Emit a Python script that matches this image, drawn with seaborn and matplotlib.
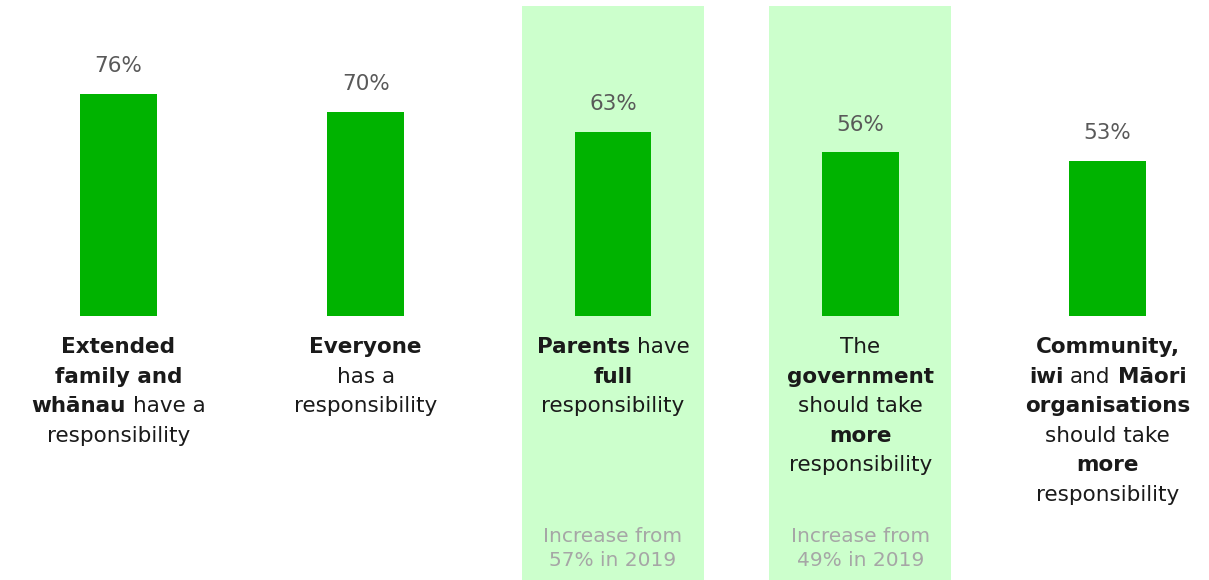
import matplotlib
matplotlib.use("Agg")
import matplotlib.pyplot as plt
import matplotlib.transforms as mtransforms
import pandas as pd
import seaborn as sns

# --- data -------------------------------------------------------------
categories = [
    "Extended family and whānau",
    "Everyone",
    "Parents",
    "The government",
    "Community, iwi and Māori organisations",
]
values = [76, 70, 63, 56, 53]
highlighted = [False, False, True, True, False]

# each label line is a list of (text, bold) segments
label_lines = [
    [[("Extended", True)], [("family and", True)],
     [("whānau", True), ("have a", False)], [("responsibility", False)]],
    [[("Everyone", True)], [("has a", False)], [("responsibility", False)]],
    [[("Parents", True), ("have", False)], [("full", True)],
     [("responsibility", False)]],
    [[("The", False)], [("government", True)], [("should take", False)],
     [("more", True)], [("responsibility", False)]],
    [[("Community,", True)], [("iwi", True), ("and", False), ("Māori", True)],
     [("organisations", True)], [("should take", False)], [("more", True)],
     [("responsibility", False)]],
]
footnotes = [None, None,
             ["Increase from", "57% in 2019"],
             ["Increase from", "49% in 2019"],
             None]

# --- style ------------------------------------------------------------
sns.set_theme(style="white")
plt.rcParams["font.family"] = ["DejaVu Sans"]

BAR = "#00b300"
HILITE = "#ccffcc"
VALUE_C = "#595959"
LABEL_C = "#1a1a1a"
NOTE_C = "#a6a6a6"

W, H = 1209, 580
fig = plt.figure(figsize=(W / 100, H / 100), dpi=100)
ax = fig.add_axes([0, 0, 1, 1])

df = pd.DataFrame({"category": categories, "value": values})
sns.barplot(data=df, x="category", y="value", color=BAR, saturation=1,
            width=0.311, linewidth=0, ax=ax, zorder=3)

# layout: bar baseline at 316 px, 2.92 px per percentage point
ax.set_xlim(-0.479, 4.41)
ax.set_ylim(-(H - 316) / 2.92, 316 / 2.92)
ax.set_axis_off()

for i, hl in enumerate(highlighted):
    if hl:
        ax.axvspan(i - 0.368, i + 0.368, ymin=0, ymax=1 - 6 / H,
                   color=HILITE, zorder=0, lw=0)

for i, v in enumerate(values):
    ax.annotate(f"{v}%", (i, v), xytext=(0, 20), textcoords="offset points",
                ha="center", va="center", fontsize=15.5, color=VALUE_C)

renderer = fig.canvas.get_renderer()
base = ax.get_xaxis_transform()


def text_width(s, size, weight):
    t = fig.text(0, 0, s, fontsize=size, fontweight=weight)
    w = t.get_window_extent(renderer).width
    t.remove()
    return w


def draw_line(xc, ypx, segments, size, color):
    yfrac = 1 - ypx / H
    gap = text_width("a a", size, "normal") - text_width("aa", size, "normal")
    items = []
    for s, bold in segments:
        weight = "bold" if bold else "normal"
        t = ax.text(xc, yfrac, s, transform=base, ha="left", va="center",
                    fontsize=size, fontweight=weight, color=color)
        items.append((t, t.get_window_extent(renderer).width))
    total = sum(w for _, w in items) + gap * (len(items) - 1)
    x0 = -total / 2
    for t, w in items:
        t.set_transform(base + mtransforms.ScaledTranslation(
            x0 / fig.dpi, 0, fig.dpi_scale_trans))
        x0 += w + gap


for i, lines in enumerate(label_lines):
    for j, segs in enumerate(lines):
        draw_line(i, 347 + j * 29.6, segs, 15.5, LABEL_C)
    if footnotes[i]:
        for j, line in enumerate(footnotes[i]):
            draw_line(i, 536 + j * 25, [(line, False)], 14.5, NOTE_C)

fig.savefig("out.png", dpi=100)
